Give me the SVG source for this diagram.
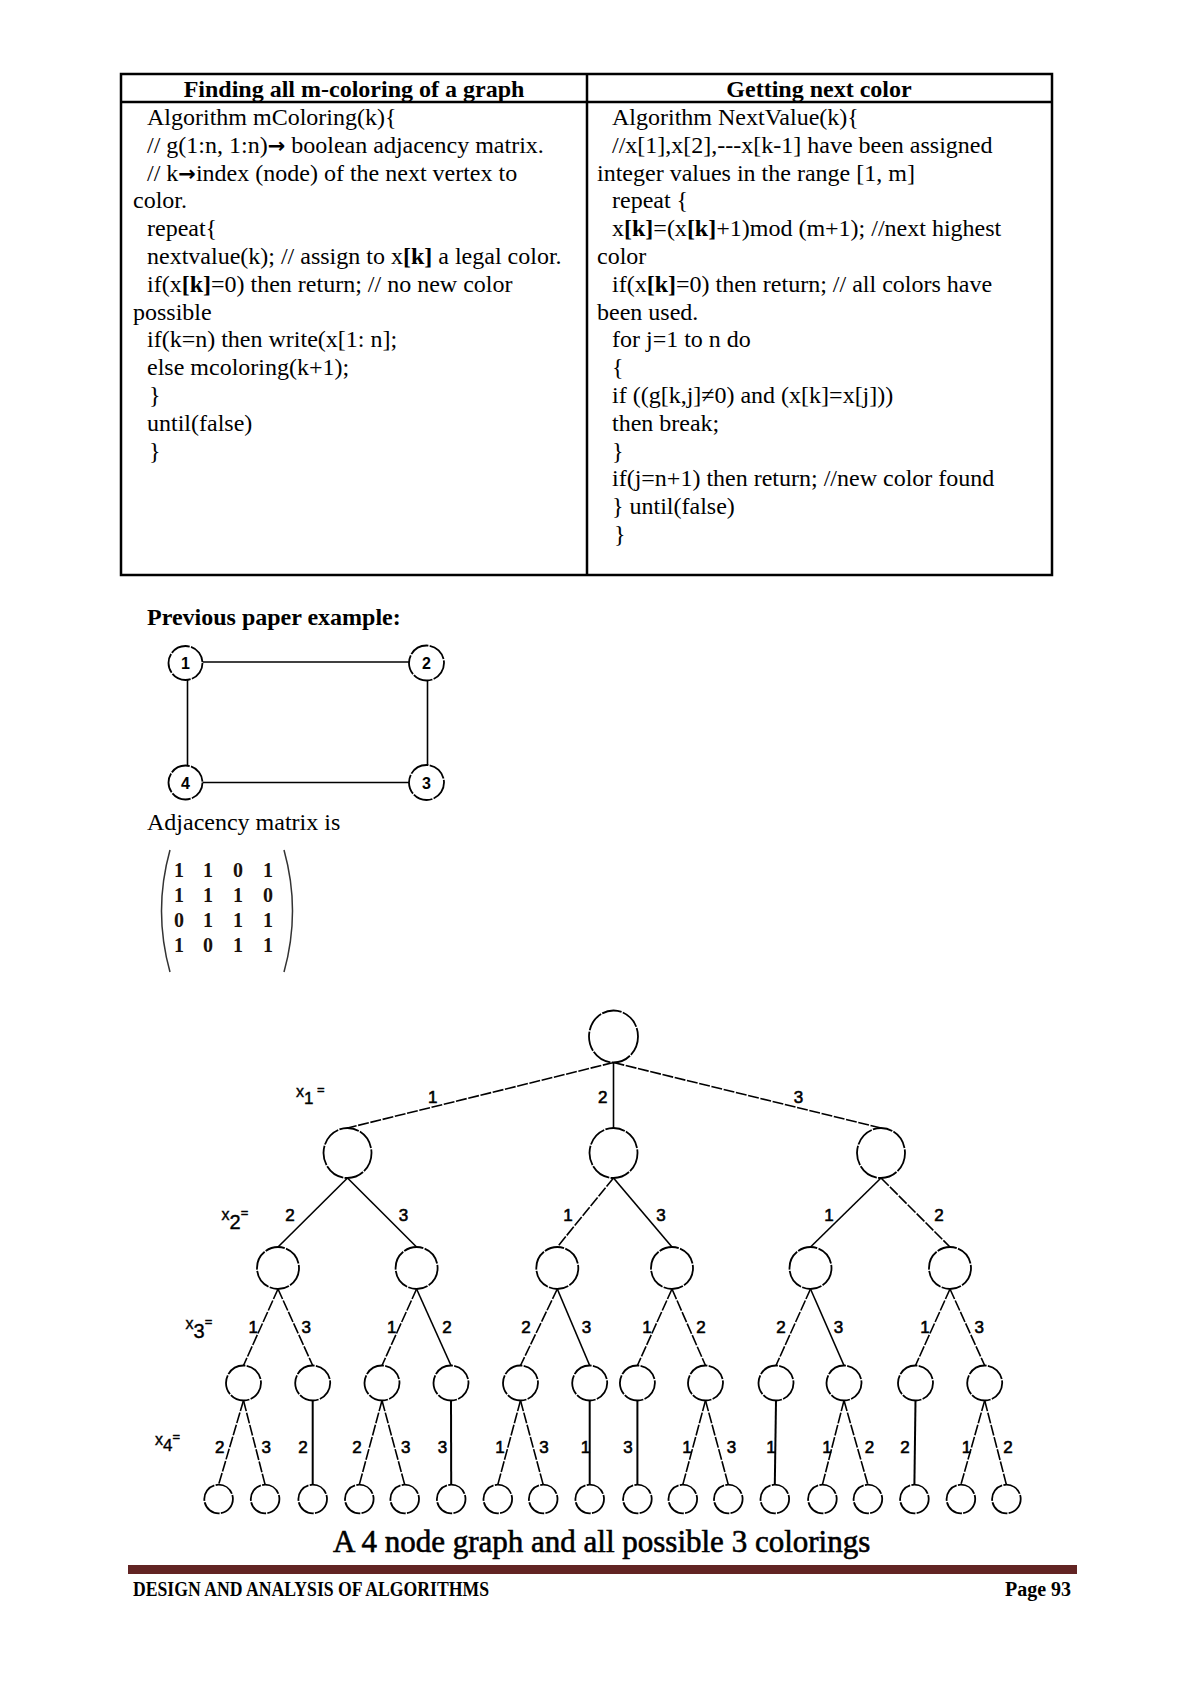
<svg xmlns="http://www.w3.org/2000/svg" width="1200" height="1696" viewBox="0 0 1200 1696">
<style>
.code{font-family:"Liberation Serif","Times New Roman",serif;font-size:24px;fill:#000}
.b{font-weight:bold}
.arr{font-family:"DejaVu Sans",sans-serif;font-weight:bold;font-size:21px}
.hdr{font-family:"Liberation Serif","Times New Roman",serif;font-size:24px;font-weight:bold;text-anchor:middle}
.mx{font-family:"Liberation Serif","Times New Roman",serif;font-size:20px;font-weight:bold;text-anchor:middle;fill:#1a100a}
.lbl{font-family:"Liberation Sans",Arial,sans-serif;font-size:17px;text-anchor:middle;fill:#000;stroke:#000;stroke-width:0.6}
.lev{font-family:"Liberation Sans",Arial,sans-serif;font-size:16px;fill:#000;stroke:#000;stroke-width:0.4}
.gl{font-family:"Liberation Sans",Arial,sans-serif;font-size:16px;font-weight:bold;text-anchor:middle}
.node{fill:#fff;stroke:#000;stroke-width:1.8;stroke-dasharray:20 1.3}
.edge{stroke:#000;stroke-width:1.6;fill:none}
.dash{stroke-dasharray:11 1.6}
.vert{stroke-width:2}
.tb{fill:none;stroke:#000;stroke-width:2.5}
</style>
<rect width="1200" height="1696" fill="#fff"/>

<!-- Table -->
<g id="table">
<rect class="tb" x="121" y="74" width="931" height="501"/>
<line class="tb" x1="121" y1="102" x2="1052" y2="102"/>
<line class="tb" x1="587" y1="74" x2="587" y2="575"/>
<text class="hdr" x="354" y="97">Finding all m-coloring of a graph</text>
<text class="hdr" x="819" y="97">Getting next color</text>
<g class="code">
<text x="147" y="125">Algorithm mColoring(k){</text>
<text x="147" y="152.8">// g(1:n, 1:n)<tspan class="arr">→</tspan> boolean adjacency matrix.</text>
<text x="147" y="180.6">// k<tspan class="arr">→</tspan>index (node) of the next vertex to</text>
<text x="133" y="208.4">color.</text>
<text x="147" y="236.2">repeat{</text>
<text x="147" y="264">nextvalue(k); // assign to x<tspan class="b">[k]</tspan> a legal color.</text>
<text x="147" y="291.8">if(x<tspan class="b">[k]</tspan>=0) then return; // no new color</text>
<text x="133" y="319.6">possible</text>
<text x="147" y="347.4">if(k=n) then write(x[1: n];</text>
<text x="147" y="375.2">else mcoloring(k+1);</text>
<text x="149" y="403">}</text>
<text x="147" y="430.8">until(false)</text>
<text x="149" y="458.6">}</text>

<text x="612" y="125">Algorithm NextValue(k){</text>
<text x="612" y="152.8">//x[1],x[2],---x[k-1] have been assigned</text>
<text x="597" y="180.6">integer values in the range [1, m]</text>
<text x="612" y="208.4">repeat {</text>
<text x="612" y="236.2">x<tspan class="b">[k]</tspan>=(x<tspan class="b">[k]</tspan>+1)mod (m+1); //next highest</text>
<text x="597" y="264">color</text>
<text x="612" y="291.8">if(x<tspan class="b">[k]</tspan>=0) then return; // all colors have</text>
<text x="597" y="319.6">been used.</text>
<text x="612" y="347.4">for j=1 to n do</text>
<text x="612" y="375.2">{</text>
<text x="612" y="403">if ((g[k,j]≠0) and (x[k]=x[j]))</text>
<text x="612" y="430.8">then break;</text>
<text x="612" y="458.6">}</text>
<text x="612" y="486.4">if(j=n+1) then return; //new color found</text>
<text x="612" y="514.2">} until(false)</text>
<text x="614" y="542">}</text>
</g>
</g>

<text class="code b" x="147" y="625">Previous paper example:</text>

<!-- Small graph -->
<g id="graph-connectors">
<line class="edge" x1="202.5" y1="662" x2="409" y2="662"/>
<line class="edge" x1="427.5" y1="680.5" x2="427.5" y2="765" stroke-width="2.4"/>
<line class="edge" x1="187.5" y1="680" x2="187.5" y2="765.5"/>
<line class="edge" x1="202.5" y1="782.5" x2="409" y2="782.5"/>
</g>
<g id="g1"><circle class="node" cx="185.5" cy="663" r="17"/><text class="gl" x="185.5" y="669">1</text></g>
<g id="g2"><circle class="node" cx="426.5" cy="663" r="17.5"/><text class="gl" x="426.5" y="669">2</text></g>
<g id="g3"><circle class="node" cx="426.5" cy="782.5" r="17.5"/><text class="gl" x="426.5" y="788.5">3</text></g>
<g id="g4"><circle class="node" cx="185.5" cy="782.5" r="17"/><text class="gl" x="185.5" y="788.5">4</text></g>

<text class="code" x="147" y="830">Adjacency matrix is</text>

<!-- Matrix -->
<g id="matrix">
<path d="M170,850 Q153,911 170,972" fill="none" stroke="#333" stroke-width="1.5"/>
<path d="M284,850 Q301,911 284,972" fill="none" stroke="#333" stroke-width="1.5"/>
<text class="mx" y="877"><tspan x="179">1</tspan><tspan x="208">1</tspan><tspan x="238">0</tspan><tspan x="268">1</tspan></text>
<text class="mx" y="902"><tspan x="179">1</tspan><tspan x="208">1</tspan><tspan x="238">1</tspan><tspan x="268">0</tspan></text>
<text class="mx" y="927"><tspan x="179">0</tspan><tspan x="208">1</tspan><tspan x="238">1</tspan><tspan x="268">1</tspan></text>
<text class="mx" y="952"><tspan x="179">1</tspan><tspan x="208">0</tspan><tspan x="238">1</tspan><tspan x="268">1</tspan></text>
</g>

<!-- Tree connectors -->
<g id="connectors">
<line class="edge dash" x1="613.5" y1="1062.5" x2="347.5" y2="1128"/>
<line class="edge" x1="613.5" y1="1062.5" x2="613.5" y2="1128"/>
<line class="edge dash" x1="613.5" y1="1062.5" x2="881" y2="1128"/>

<line class="edge" x1="347.5" y1="1178" x2="278" y2="1247"/>
<line class="edge" x1="347.5" y1="1178" x2="416.6" y2="1247"/>
<line class="edge dash" x1="613.5" y1="1178" x2="557.3" y2="1247"/>
<line class="edge" x1="613.5" y1="1178" x2="672" y2="1247"/>
<line class="edge" x1="881" y1="1178" x2="810.5" y2="1247"/>
<line class="edge dash" x1="881" y1="1178" x2="950" y2="1247"/>

<line class="edge dash" x1="278" y1="1289" x2="243.5" y2="1365.5"/>
<line class="edge dash" x1="278" y1="1289" x2="312.7" y2="1365.5"/>
<line class="edge dash" x1="416.6" y1="1289" x2="382" y2="1365.5"/>
<line class="edge" x1="416.6" y1="1289" x2="451" y2="1365.5"/>
<line class="edge dash" x1="557.3" y1="1289" x2="520.5" y2="1365.5"/>
<line class="edge" x1="557.3" y1="1289" x2="589.7" y2="1365.5"/>
<line class="edge dash" x1="672" y1="1289" x2="637.4" y2="1365.5"/>
<line class="edge dash" x1="672" y1="1289" x2="705.5" y2="1365.5"/>
<line class="edge dash" x1="810.5" y1="1289" x2="776" y2="1365.5"/>
<line class="edge" x1="810.5" y1="1289" x2="844" y2="1365.5"/>
<line class="edge dash" x1="950" y1="1289" x2="915.5" y2="1365.5"/>
<line class="edge dash" x1="950" y1="1289" x2="984.7" y2="1365.5"/>

<line class="edge dash" x1="243.5" y1="1400.5" x2="218.6" y2="1484.7"/>
<line class="edge dash" x1="243.5" y1="1400.5" x2="265.1" y2="1484.7"/>
<line class="edge vert" x1="312.7" y1="1400.5" x2="312.7" y2="1484.7"/>
<line class="edge dash" x1="382" y1="1400.5" x2="359.3" y2="1484.7"/>
<line class="edge dash" x1="382" y1="1400.5" x2="404.7" y2="1484.7"/>
<line class="edge vert" x1="451" y1="1400.5" x2="451.2" y2="1484.7"/>
<line class="edge dash" x1="520.5" y1="1400.5" x2="497.8" y2="1484.7"/>
<line class="edge dash" x1="520.5" y1="1400.5" x2="543.2" y2="1484.7"/>
<line class="edge vert" x1="589.7" y1="1400.5" x2="589.7" y2="1484.7"/>
<line class="edge vert" x1="637.4" y1="1400.5" x2="637.4" y2="1484.7"/>
<line class="edge dash" x1="705.5" y1="1400.5" x2="682.8" y2="1484.7"/>
<line class="edge dash" x1="705.5" y1="1400.5" x2="728.3" y2="1484.7"/>
<line class="edge vert" x1="776" y1="1400.5" x2="774.8" y2="1484.7"/>
<line class="edge dash" x1="844" y1="1400.5" x2="822.4" y2="1484.7"/>
<line class="edge dash" x1="844" y1="1400.5" x2="867.9" y2="1484.7"/>
<line class="edge vert" x1="915.5" y1="1400.5" x2="914.4" y2="1484.7"/>
<line class="edge dash" x1="984.7" y1="1400.5" x2="960.9" y2="1484.7"/>
<line class="edge dash" x1="984.7" y1="1400.5" x2="1006.4" y2="1484.7"/>
</g>

<!-- Edge labels -->
<g id="edge-labels" class="lbl">
<text x="432.7" y="1103">1</text><text x="602.7" y="1103">2</text><text x="798.6" y="1103">3</text>
<text x="290" y="1221">2</text><text x="403.6" y="1221">3</text>
<text x="568" y="1221">1</text><text x="661" y="1221">3</text>
<text x="829" y="1221">1</text><text x="939" y="1221">2</text>
<text x="253.2" y="1333">1</text><text x="306.2" y="1333">3</text>
<text x="391.7" y="1333">1</text><text x="447" y="1333">2</text>
<text x="526" y="1333">2</text><text x="586.5" y="1333">3</text>
<text x="647" y="1333">1</text><text x="701" y="1333">2</text>
<text x="781" y="1333">2</text><text x="838.6" y="1333">3</text>
<text x="925" y="1333">1</text><text x="979.3" y="1333">3</text>
<text x="219.7" y="1453">2</text><text x="266.2" y="1453">3</text><text x="303" y="1453">2</text>
<text x="357" y="1453">2</text><text x="405.8" y="1453">3</text><text x="442.6" y="1453">3</text>
<text x="500" y="1453">1</text><text x="544" y="1453">3</text><text x="585.4" y="1453">1</text>
<text x="628" y="1453">3</text><text x="687" y="1453">1</text><text x="731.5" y="1453">3</text>
<text x="771" y="1453">1</text><text x="827" y="1453">1</text><text x="869.5" y="1453">2</text>
<text x="905" y="1453">2</text><text x="966.5" y="1453">1</text><text x="1008" y="1453">2</text>
</g>

<!-- Level labels -->
<g id="level-labels" class="lev">
<text x="296" y="1097">x<tspan font-size="17" dy="7">1</tspan><tspan font-size="13" dy="-10"> =</tspan></text>
<text x="221.5" y="1220">x<tspan font-size="20" dy="9">2</tspan><tspan font-size="13" dy="-12">=</tspan></text>
<text x="185.5" y="1329">x<tspan font-size="20" dy="9">3</tspan><tspan font-size="13" dy="-12">=</tspan></text>
<text x="155" y="1445">x<tspan font-size="17" dy="6">4</tspan><tspan font-size="13" dy="-10">=</tspan></text>
</g>

<!-- Tree nodes -->
<g id="n-root"><ellipse class="node" cx="613.5" cy="1036.5" rx="24.5" ry="26"/></g>
<g id="n-1"><ellipse class="node" cx="347.5" cy="1153" rx="24" ry="25"/></g>
<g id="n-2"><ellipse class="node" cx="613.5" cy="1153" rx="24" ry="25"/></g>
<g id="n-3"><ellipse class="node" cx="881" cy="1153" rx="24" ry="25"/></g>
<g id="n-12"><circle class="node" cx="278" cy="1268" r="21"/></g>
<g id="n-13"><circle class="node" cx="416.6" cy="1268" r="21"/></g>
<g id="n-21"><circle class="node" cx="557.3" cy="1268" r="21"/></g>
<g id="n-23"><circle class="node" cx="672" cy="1268" r="21"/></g>
<g id="n-31"><circle class="node" cx="810.5" cy="1268" r="21"/></g>
<g id="n-32"><circle class="node" cx="950" cy="1268" r="21"/></g>
<g id="n-121"><circle class="node" cx="243.5" cy="1383" r="17.5"/></g>
<g id="n-123"><circle class="node" cx="312.7" cy="1383" r="17.5"/></g>
<g id="n-131"><circle class="node" cx="382" cy="1383" r="17.5"/></g>
<g id="n-132"><circle class="node" cx="451" cy="1383" r="17.5"/></g>
<g id="n-212"><circle class="node" cx="520.5" cy="1383" r="17.5"/></g>
<g id="n-213"><circle class="node" cx="589.7" cy="1383" r="17.5"/></g>
<g id="n-231"><circle class="node" cx="637.4" cy="1383" r="17.5"/></g>
<g id="n-232"><circle class="node" cx="705.5" cy="1383" r="17.5"/></g>
<g id="n-312"><circle class="node" cx="776" cy="1383" r="17.5"/></g>
<g id="n-313"><circle class="node" cx="844" cy="1383" r="17.5"/></g>
<g id="n-321"><circle class="node" cx="915.5" cy="1383" r="17.5"/></g>
<g id="n-323"><circle class="node" cx="984.7" cy="1383" r="17.5"/></g>
<g id="n-1212"><circle class="node" cx="218.6" cy="1499" r="14.3"/></g>
<g id="n-1213"><circle class="node" cx="265.1" cy="1499" r="14.3"/></g>
<g id="n-1232"><circle class="node" cx="312.7" cy="1499" r="14.3"/></g>
<g id="n-1312"><circle class="node" cx="359.3" cy="1499" r="14.3"/></g>
<g id="n-1313"><circle class="node" cx="404.7" cy="1499" r="14.3"/></g>
<g id="n-1323"><circle class="node" cx="451.2" cy="1499" r="14.3"/></g>
<g id="n-2121"><circle class="node" cx="497.8" cy="1499" r="14.3"/></g>
<g id="n-2123"><circle class="node" cx="543.2" cy="1499" r="14.3"/></g>
<g id="n-2131"><circle class="node" cx="589.7" cy="1499" r="14.3"/></g>
<g id="n-2313"><circle class="node" cx="637.4" cy="1499" r="14.3"/></g>
<g id="n-2321"><circle class="node" cx="682.8" cy="1499" r="14.3"/></g>
<g id="n-2323"><circle class="node" cx="728.3" cy="1499" r="14.3"/></g>
<g id="n-3121"><circle class="node" cx="774.8" cy="1499" r="14.3"/></g>
<g id="n-3131"><circle class="node" cx="822.4" cy="1499" r="14.3"/></g>
<g id="n-3132"><circle class="node" cx="867.9" cy="1499" r="14.3"/></g>
<g id="n-3212"><circle class="node" cx="914.4" cy="1499" r="14.3"/></g>
<g id="n-3231"><circle class="node" cx="960.9" cy="1499" r="14.3"/></g>
<g id="n-3232"><circle class="node" cx="1006.4" cy="1499" r="14.3"/></g>

<text x="333" y="1551.5" font-family="Liberation Serif, Times New Roman, serif" font-size="31" fill="#000" stroke="#000" stroke-width="0.6">A 4 node graph and all possible 3 colorings</text>

<!-- Footer -->
<rect x="128" y="1565" width="949" height="9" fill="#622423"/>
<text x="133" y="1596" font-family="Liberation Serif, Times New Roman, serif" font-size="20" font-weight="bold" textLength="356" lengthAdjust="spacingAndGlyphs">DESIGN AND ANALYSIS OF ALGORITHMS</text>
<text x="1005" y="1596" font-family="Liberation Serif, Times New Roman, serif" font-size="20" font-weight="bold" textLength="66" lengthAdjust="spacingAndGlyphs">Page 93</text>
</svg>
